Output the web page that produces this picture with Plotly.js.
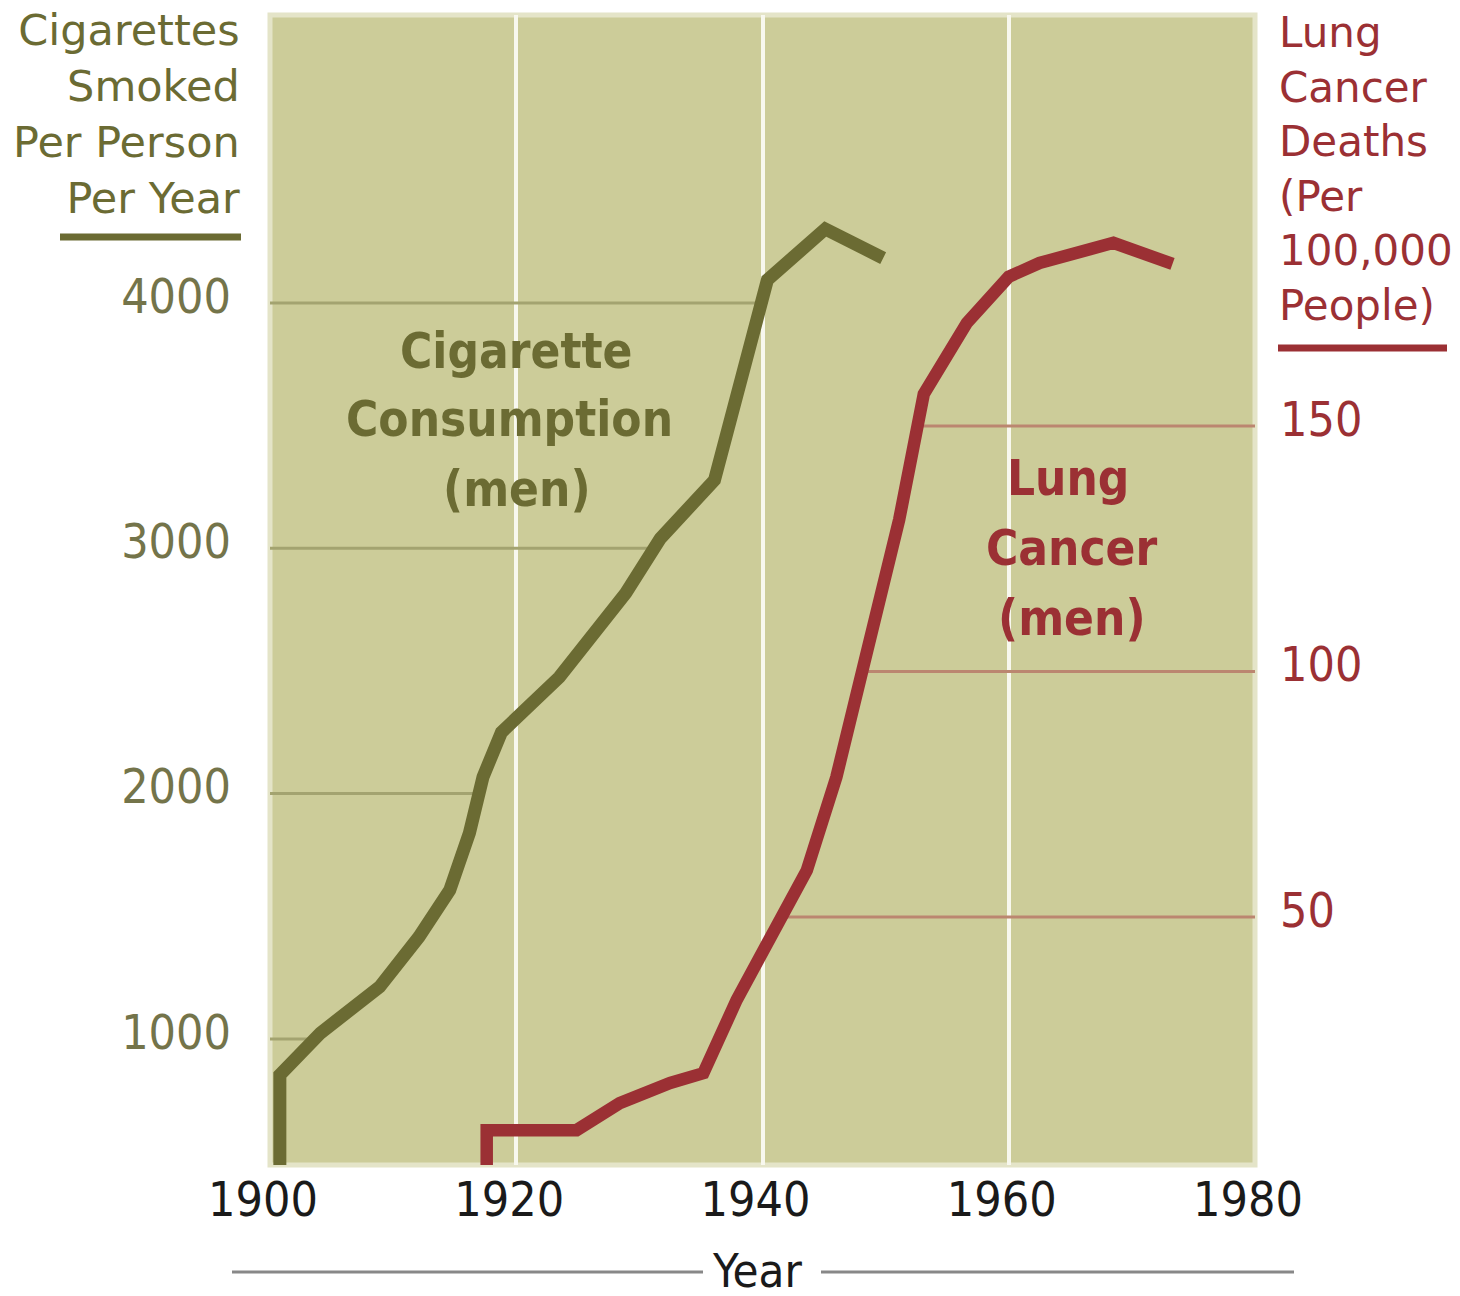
<!DOCTYPE html>
<html>
<head>
<meta charset="utf-8">
<script src="https://cdn.plot.ly/plotly-3.0.1.min.js"></script>
<style>
  html, body { margin: 0; padding: 0; background: #ffffff; }
  #chart { width: 1460px; height: 1296px; }
</style>
</head>
<body>
<div id="chart"></div>
<script>
// ---- data ----
const cigYears  = [1900.8, 1900.8, 1904.1, 1908.9, 1912.1, 1914.6, 1916.2, 1917.3, 1918.8, 1923.5, 1928.9, 1931.7, 1936.1, 1937.6, 1938.7, 1939.6, 1940.4, 1945.1, 1949.8];
const cigValues = [480, 853, 1024, 1212, 1416, 1607, 1840, 2068, 2250, 2475, 2818, 3040, 3278, 3564, 3768, 3971, 4094, 4302, 4183];

const lungYears  = [1917.6, 1917.6, 1924.9, 1928.4, 1932.5, 1935.2, 1937.9, 1941.2, 1943.6, 1946.0, 1947.8, 1949.5, 1951.1, 1953.1, 1955.5, 1956.6, 1960.0, 1962.5, 1968.5, 1973.3];
const lungValues = [-3, 6.6, 6.6, 12.1, 16.2, 18.2, 33.1, 48.8, 59.5, 78.5, 96.9, 114.6, 130.9, 156.5, 166.9, 171.0, 180.4, 183.2, 187.3, 183.0];

const xTicks     = [1900, 1920, 1940, 1960, 1980];
const cigTicks   = [1000, 2000, 3000, 4000];
const lungTicks  = [50, 100, 150];

const leftTitleLines  = ["Cigarettes", "Smoked", "Per Person", "Per Year"];
const rightTitleLines = ["Lung", "Cancer", "Deaths", "(Per", "100,000", "People)"];
const cigLabelLines   = ["Cigarette", "Consumption", "(men)"];
const lungLabelLines  = ["Lung", "Cancer", "(men)"];
const xTitle = "Year";

// ---- styling ----
const OLIVE = '#6b6b33';
const OLIVE_TXT = '#74744a';
const RED = '#9b3034';
const BG = '#cccc99';
const COND = '"DejaVu Sans Condensed", "DejaVu Sans", sans-serif';
const SANS = '"DejaVu Sans", sans-serif';

// plot area in pixels
const L = 270, R = 1255, T = 15, B = 1165;
const px = v => (v - L) / (R - L);
const py = v => (B - v) / (B - T);

// first crossing of a series with a level (for the partial grid lines)
function crossing(xs, ys, level) {
  for (let i = 1; i < xs.length; i++) {
    const y0 = ys[i - 1], y1 = ys[i];
    if ((y0 - level) * (y1 - level) <= 0 && y0 !== y1) {
      return xs[i - 1] + (level - y0) / (y1 - y0) * (xs[i] - xs[i - 1]);
    }
  }
  return xs[xs.length - 1];
}

const traces = [];
// left partial grid lines: from left edge to cigarette curve
cigTicks.forEach(v => {
  traces.push({
    x: [xTicks[0] - 1, crossing(cigYears, cigValues, v)], y: [v, v],
    mode: 'lines', line: {color: '#a3a370', width: 3},
    hoverinfo: 'skip', showlegend: false, yaxis: 'y'
  });
});
// right partial grid lines: from lung curve to right edge
lungTicks.forEach(v => {
  traces.push({
    x: [crossing(lungYears, lungValues, v), xTicks[xTicks.length - 1] + 1], y: [v, v],
    mode: 'lines', line: {color: '#bb8670', width: 3},
    hoverinfo: 'skip', showlegend: false, yaxis: 'y2'
  });
});
traces.push({
  name: 'Cigarette Consumption (men)', x: cigYears, y: cigValues,
  mode: 'lines', line: {color: OLIVE, width: 13}, yaxis: 'y', showlegend: false
});
traces.push({
  name: 'Lung Cancer (men)', x: lungYears, y: lungValues,
  mode: 'lines', line: {color: RED, width: 12.5}, yaxis: 'y2', showlegend: false
});

const annotations = [
  {text: leftTitleLines.join('<br>'), xref: 'paper', yref: 'paper',
   x: px(242), y: py(114), xanchor: 'right', yanchor: 'middle', align: 'right',
   showarrow: false, font: {family: SANS, size: 43, color: OLIVE}},
  {text: rightTitleLines.join('<br>'), xref: 'paper', yref: 'paper',
   x: px(1277), y: py(168.5), xanchor: 'left', yanchor: 'middle', align: 'left',
   showarrow: false, font: {family: SANS, size: 42, color: RED}},
  {text: xTitle, xref: 'paper', yref: 'paper', x: px(757), y: py(1270),
   xanchor: 'center', yanchor: 'middle', showarrow: false,
   font: {family: COND, size: 47, color: '#1a1a1a'}}
];
const cigPos = [[516, 352], [509, 420], [517, 490]];
cigLabelLines.forEach((t, i) => annotations.push({
  text: t, xref: 'paper', yref: 'paper', x: px(cigPos[i][0]), y: py(cigPos[i][1]),
  xanchor: 'center', yanchor: 'middle', showarrow: false,
  font: {family: COND, size: 49, color: OLIVE, weight: 'bold'}
}));
const lungPos = [[1068, 479], [1072, 548], [1072, 618]];
lungLabelLines.forEach((t, i) => annotations.push({
  text: t, xref: 'paper', yref: 'paper', x: px(lungPos[i][0]), y: py(lungPos[i][1]),
  xanchor: 'center', yanchor: 'middle', showarrow: false,
  font: {family: COND, size: 49, color: RED, weight: 'bold'}
}));

const shapes = [
  // light edge of the plot panel
  {type: 'rect', xref: 'paper', yref: 'paper', x0: 0, x1: 1, y0: 0, y1: 1,
   line: {color: '#e4e4c8', width: 5}, layer: 'between'},
  // underline of left title
  {type: 'line', xref: 'paper', yref: 'paper', x0: px(60), x1: px(241), y0: py(237), y1: py(237),
   line: {color: OLIVE, width: 7}},
  // underline of right title
  {type: 'line', xref: 'paper', yref: 'paper', x0: px(1278), x1: px(1447), y0: py(348), y1: py(348),
   line: {color: RED, width: 7}},
  // lines either side of "Year"
  {type: 'line', xref: 'paper', yref: 'paper', x0: px(232), x1: px(703), y0: py(1272), y1: py(1272),
   line: {color: '#888888', width: 3}},
  {type: 'line', xref: 'paper', yref: 'paper', x0: px(821), x1: px(1294), y0: py(1272), y1: py(1272),
   line: {color: '#888888', width: 3}}
];

const layout = {
  width: 1460, height: 1296,
  margin: {l: L, r: 1460 - R, t: T, b: 1296 - B, pad: 0},
  paper_bgcolor: '#ffffff', plot_bgcolor: BG,
  showlegend: false,
  xaxis: {
    range: [1900, 1980], tickvals: xTicks, ticktext: xTicks.map(String),
    showgrid: true, gridcolor: '#f8f8ee', gridwidth: 4,
    zeroline: false, showline: false, ticks: '',
    tickfont: {family: COND, size: 48, color: '#1a1a1a'},
    ticklabelshift: -7, ticklabelstandoff: 2, fixedrange: true
  },
  yaxis: {
    range: [486, 5174], tickvals: cigTicks, ticktext: cigTicks.map(String),
    showgrid: false, zeroline: false, showline: false, ticks: '',
    tickfont: {family: COND, size: 48, color: OLIVE_TXT},
    ticklabelshift: -7, ticklabelstandoff: 38, fixedrange: true
  },
  yaxis2: {
    range: [-0.5, 233.7], tickvals: lungTicks, ticktext: lungTicks.map(String),
    overlaying: 'y', side: 'right',
    showgrid: false, zeroline: false, showline: false, ticks: '',
    tickfont: {family: COND, size: 48, color: RED},
    ticklabelshift: -7, ticklabelstandoff: 24, fixedrange: true
  },
  annotations: annotations,
  shapes: shapes
};

Plotly.newPlot('chart', traces, layout, {staticPlot: true, displayModeBar: false});
</script>
</body>
</html>
